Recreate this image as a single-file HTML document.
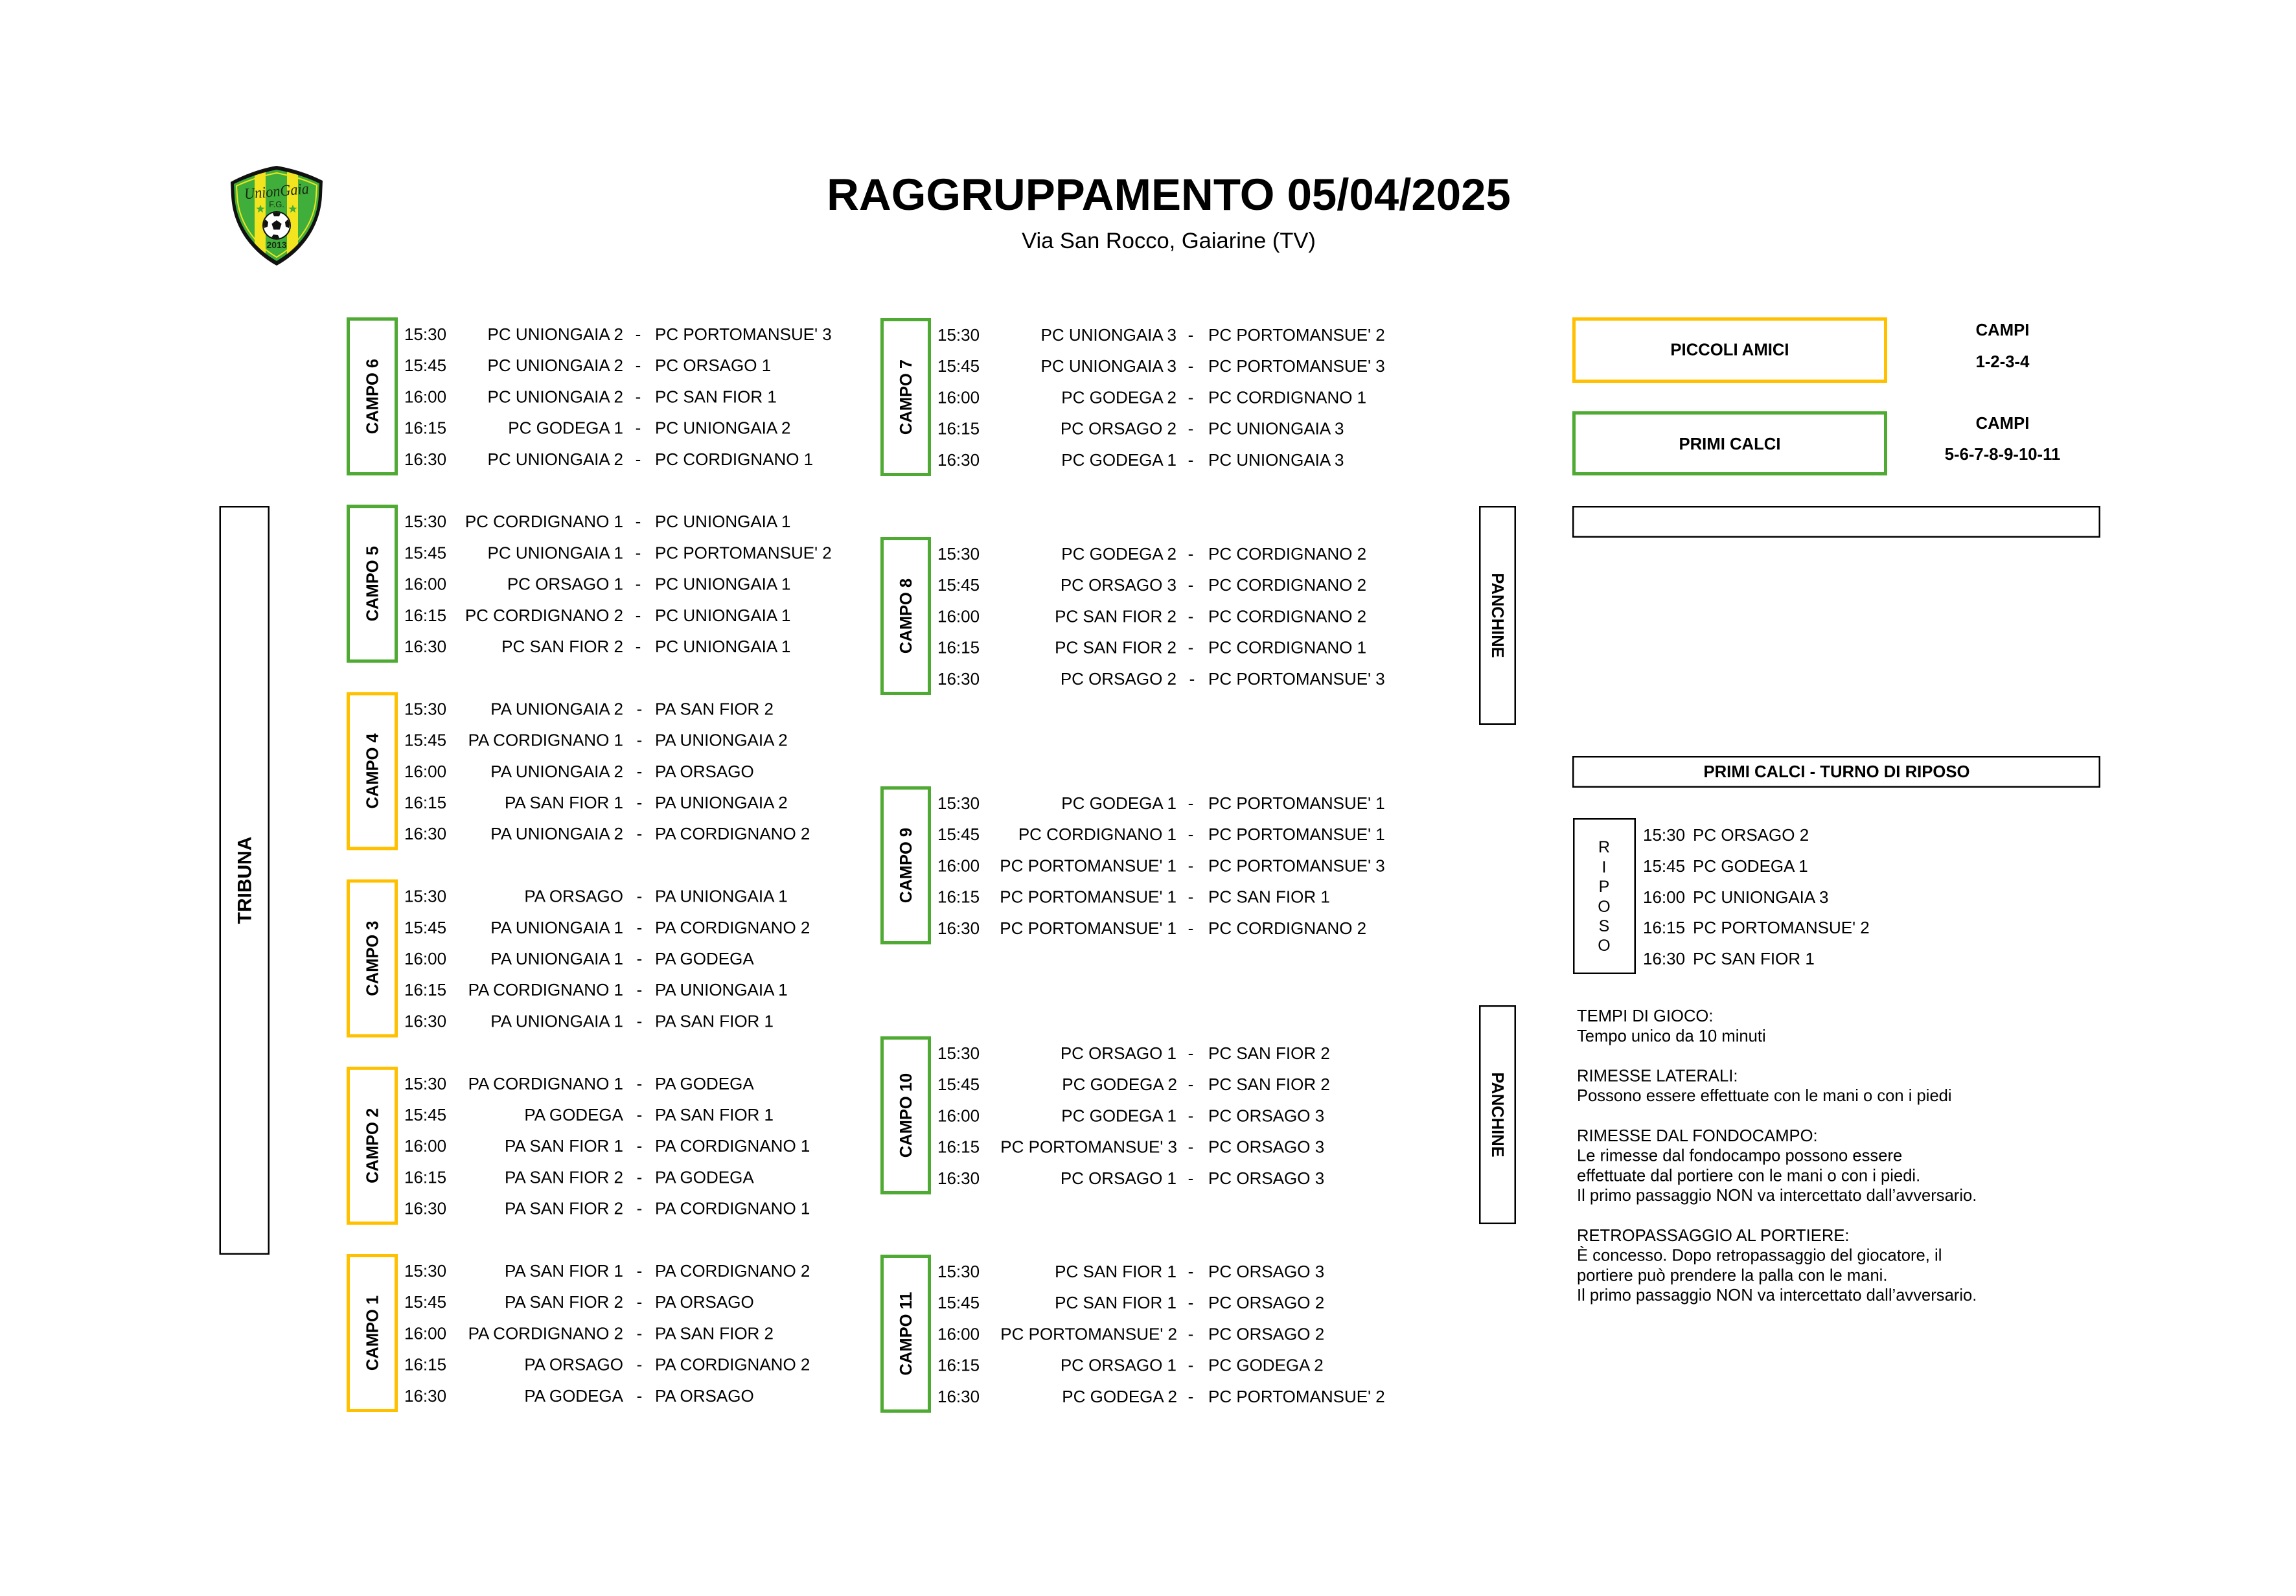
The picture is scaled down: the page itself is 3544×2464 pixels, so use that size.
<!DOCTYPE html>
<html>
<head>
<meta charset="utf-8">
<style>
html,body{margin:0;padding:0;background:#fff;}
body{width:3544px;height:2464px;overflow:hidden;}
svg{display:block;}
text{font-family:"Liberation Sans",Arial,sans-serif;fill:#000;}
.r{font-size:26px;}
.lab{font-size:25.5px;font-weight:bold;text-anchor:middle;}
.e{text-anchor:end;}
.m{text-anchor:middle;}
.bx{font-size:25.7px;font-weight:bold;text-anchor:middle;}
.rule{font-size:25.6px;}
</style>
</head>
<body>
<svg width="3544" height="2464" viewBox="0 0 3544 2464" xmlns="http://www.w3.org/2000/svg">
<defs>
<clipPath id="sh"><path d="M427,262 C406,266 384,273 361,284 L362,302 C364,344 388,380 427,403 C466,380 490,344 492,302 L493,283 C470,272 448,266 427,262 Z"/></clipPath>
<clipPath id="ball"><circle cx="427" cy="348" r="20"/></clipPath>
</defs>

<!-- LOGO -->
<g>
<path d="M427,256 C404,260 380,268 356,281 L357,302 C359,347 385,387 427,410 C469,387 495,347 497,302 L498,279 C474,267 450,260 427,256 Z" fill="#111"/>
<g clip-path="url(#sh)">
<rect x="350" y="250" width="160" height="170" fill="#3fae3a"/>
<rect x="393" y="250" width="17" height="170" fill="#f2e41e"/>
<rect x="443" y="250" width="17" height="170" fill="#f2e41e"/>
</g>
<path d="M427,267 C407,271 386,277 365,287 L366,302 C368,341 391,376 427,397 C463,376 486,341 488,302 L489,286 C468,276 447,271 427,267 Z" fill="none" stroke="#f2e41e" stroke-width="2"/>
<text x="377" y="303" textLength="100" lengthAdjust="spacingAndGlyphs" style="font-family:'Liberation Serif',serif;font-style:italic;font-size:24px;fill:#1b2a12;" transform="rotate(-5 427 297)">UnionGaia</text>
<text x="427" y="320" text-anchor="middle" style="font-size:13px;fill:#1b2a12;">F.G.</text>
<polygon points="402,316 403.8,320.5 408.5,320.7 404.8,323.6 406.1,328.2 402,325.5 397.9,328.2 399.2,323.6 395.5,320.7 400.2,320.5" fill="#3fae3a"/>
<polygon points="452,316 453.8,320.5 458.5,320.7 454.8,323.6 456.1,328.2 452,325.5 447.9,328.2 449.2,323.6 445.5,320.7 450.2,320.5" fill="#3fae3a"/>
<circle cx="427" cy="348" r="21" fill="#fff" stroke="#111" stroke-width="2"/>
<g clip-path="url(#ball)" fill="#111">
<polygon points="427,340 434.6,345.5 431.7,354.5 422.3,354.5 419.4,345.5"/>
<polygon points="427,326 433,329 431,334 423,334 421,329"/>
<polygon points="448,342 446,352 441,350 440,343 444,339"/>
<polygon points="406,342 408,352 413,350 414,343 410,339"/>
<polygon points="418,368 422,362 429,363 432,369 425,372"/>
<polygon points="440,366 444,360 448,362 446,369"/>
</g>
<text x="427" y="383" text-anchor="middle" style="font-size:14px;font-weight:bold;fill:#1b2a12;">2013</text>
</g>

<!-- TITLE -->
<text x="1804" y="324" text-anchor="middle" style="font-size:69px;font-weight:bold;">RAGGRUPPAMENTO 05/04/2025</text>
<text x="1804" y="383" text-anchor="middle" style="font-size:34.5px;">Via San Rocco, Gaiarine (TV)</text>

<!-- TRIBUNA -->
<rect x="339.75" y="782.25" width="75" height="1153.5" fill="none" stroke="#000" stroke-width="2.5"/>
<text transform="translate(377,1359) rotate(-90)" x="0" y="10.5" style="font-size:30px;font-weight:bold;" text-anchor="middle">TRIBUNA</text>

<!-- LEFT COLUMN -->
<!-- CAMPO 6 -->
<g transform="translate(0,490)">
<rect x="537.5" y="2.5" width="74" height="239" fill="none" stroke="#4eaa32" stroke-width="5"/>
<text class="lab" transform="translate(574.5,122) rotate(-90)" y="9">CAMPO 6</text>
<g class="r">
<text x="624" y="35">15:30</text><text class="e" x="962" y="35">PC UNIONGAIA 2</text><text class="m" x="985" y="35">-</text><text x="1011" y="35">PC PORTOMANSUE' 3</text>
<text x="624" y="83.2">15:45</text><text class="e" x="962" y="83.2">PC UNIONGAIA 2</text><text class="m" x="985" y="83.2">-</text><text x="1011" y="83.2">PC ORSAGO 1</text>
<text x="624" y="131.4">16:00</text><text class="e" x="962" y="131.4">PC UNIONGAIA 2</text><text class="m" x="985" y="131.4">-</text><text x="1011" y="131.4">PC SAN FIOR 1</text>
<text x="624" y="179.6">16:15</text><text class="e" x="962" y="179.6">PC GODEGA 1</text><text class="m" x="985" y="179.6">-</text><text x="1011" y="179.6">PC UNIONGAIA 2</text>
<text x="624" y="227.8">16:30</text><text class="e" x="962" y="227.8">PC UNIONGAIA 2</text><text class="m" x="985" y="227.8">-</text><text x="1011" y="227.8">PC CORDIGNANO 1</text>
</g>
</g>
<!-- CAMPO 5 -->
<g transform="translate(0,779.2)">
<rect x="537.5" y="2.5" width="74" height="239" fill="none" stroke="#4eaa32" stroke-width="5"/>
<text class="lab" transform="translate(574.5,122) rotate(-90)" y="9">CAMPO 5</text>
<g class="r">
<text x="624" y="35">15:30</text><text class="e" x="962" y="35">PC CORDIGNANO 1</text><text class="m" x="985" y="35">-</text><text x="1011" y="35">PC UNIONGAIA 1</text>
<text x="624" y="83.2">15:45</text><text class="e" x="962" y="83.2">PC UNIONGAIA 1</text><text class="m" x="985" y="83.2">-</text><text x="1011" y="83.2">PC PORTOMANSUE' 2</text>
<text x="624" y="131.4">16:00</text><text class="e" x="962" y="131.4">PC ORSAGO 1</text><text class="m" x="985" y="131.4">-</text><text x="1011" y="131.4">PC UNIONGAIA 1</text>
<text x="624" y="179.6">16:15</text><text class="e" x="962" y="179.6">PC CORDIGNANO 2</text><text class="m" x="985" y="179.6">-</text><text x="1011" y="179.6">PC UNIONGAIA 1</text>
<text x="624" y="227.8">16:30</text><text class="e" x="962" y="227.8">PC SAN FIOR 2</text><text class="m" x="985" y="227.8">-</text><text x="1011" y="227.8">PC UNIONGAIA 1</text>
</g>
</g>
<!-- CAMPO 4 -->
<g transform="translate(0,1068.4)">
<rect x="537.5" y="2.5" width="74" height="239" fill="none" stroke="#ffc000" stroke-width="5"/>
<text class="lab" transform="translate(574.5,122) rotate(-90)" y="9">CAMPO 4</text>
<g class="r">
<text x="624" y="35">15:30</text><text class="e" x="962" y="35">PA UNIONGAIA 2</text><text class="m" x="987" y="35">-</text><text x="1011" y="35">PA SAN FIOR 2</text>
<text x="624" y="83.2">15:45</text><text class="e" x="962" y="83.2">PA CORDIGNANO 1</text><text class="m" x="987" y="83.2">-</text><text x="1011" y="83.2">PA UNIONGAIA 2</text>
<text x="624" y="131.4">16:00</text><text class="e" x="962" y="131.4">PA UNIONGAIA 2</text><text class="m" x="987" y="131.4">-</text><text x="1011" y="131.4">PA ORSAGO</text>
<text x="624" y="179.6">16:15</text><text class="e" x="962" y="179.6">PA SAN FIOR 1</text><text class="m" x="987" y="179.6">-</text><text x="1011" y="179.6">PA UNIONGAIA 2</text>
<text x="624" y="227.8">16:30</text><text class="e" x="962" y="227.8">PA UNIONGAIA 2</text><text class="m" x="987" y="227.8">-</text><text x="1011" y="227.8">PA CORDIGNANO 2</text>
</g>
</g>
<!-- CAMPO 3 -->
<g transform="translate(0,1357.6)">
<rect x="537.5" y="2.5" width="74" height="239" fill="none" stroke="#ffc000" stroke-width="5"/>
<text class="lab" transform="translate(574.5,122) rotate(-90)" y="9">CAMPO 3</text>
<g class="r">
<text x="624" y="35">15:30</text><text class="e" x="962" y="35">PA ORSAGO</text><text class="m" x="987" y="35">-</text><text x="1011" y="35">PA UNIONGAIA 1</text>
<text x="624" y="83.2">15:45</text><text class="e" x="962" y="83.2">PA UNIONGAIA 1</text><text class="m" x="987" y="83.2">-</text><text x="1011" y="83.2">PA CORDIGNANO 2</text>
<text x="624" y="131.4">16:00</text><text class="e" x="962" y="131.4">PA UNIONGAIA 1</text><text class="m" x="987" y="131.4">-</text><text x="1011" y="131.4">PA GODEGA</text>
<text x="624" y="179.6">16:15</text><text class="e" x="962" y="179.6">PA CORDIGNANO 1</text><text class="m" x="987" y="179.6">-</text><text x="1011" y="179.6">PA UNIONGAIA 1</text>
<text x="624" y="227.8">16:30</text><text class="e" x="962" y="227.8">PA UNIONGAIA 1</text><text class="m" x="987" y="227.8">-</text><text x="1011" y="227.8">PA SAN FIOR 1</text>
</g>
</g>
<!-- CAMPO 2 -->
<g transform="translate(0,1646.8)">
<rect x="537.5" y="2.5" width="74" height="239" fill="none" stroke="#ffc000" stroke-width="5"/>
<text class="lab" transform="translate(574.5,122) rotate(-90)" y="9">CAMPO 2</text>
<g class="r">
<text x="624" y="35">15:30</text><text class="e" x="962" y="35">PA CORDIGNANO 1</text><text class="m" x="987" y="35">-</text><text x="1011" y="35">PA GODEGA</text>
<text x="624" y="83.2">15:45</text><text class="e" x="962" y="83.2">PA GODEGA</text><text class="m" x="987" y="83.2">-</text><text x="1011" y="83.2">PA SAN FIOR 1</text>
<text x="624" y="131.4">16:00</text><text class="e" x="962" y="131.4">PA SAN FIOR 1</text><text class="m" x="987" y="131.4">-</text><text x="1011" y="131.4">PA CORDIGNANO 1</text>
<text x="624" y="179.6">16:15</text><text class="e" x="962" y="179.6">PA SAN FIOR 2</text><text class="m" x="987" y="179.6">-</text><text x="1011" y="179.6">PA GODEGA</text>
<text x="624" y="227.8">16:30</text><text class="e" x="962" y="227.8">PA SAN FIOR 2</text><text class="m" x="987" y="227.8">-</text><text x="1011" y="227.8">PA CORDIGNANO 1</text>
</g>
</g>
<!-- CAMPO 1 -->
<g transform="translate(0,1936)">
<rect x="537.5" y="2.5" width="74" height="239" fill="none" stroke="#ffc000" stroke-width="5"/>
<text class="lab" transform="translate(574.5,122) rotate(-90)" y="9">CAMPO 1</text>
<g class="r">
<text x="624" y="35">15:30</text><text class="e" x="962" y="35">PA SAN FIOR 1</text><text class="m" x="987" y="35">-</text><text x="1011" y="35">PA CORDIGNANO 2</text>
<text x="624" y="83.2">15:45</text><text class="e" x="962" y="83.2">PA SAN FIOR 2</text><text class="m" x="987" y="83.2">-</text><text x="1011" y="83.2">PA ORSAGO</text>
<text x="624" y="131.4">16:00</text><text class="e" x="962" y="131.4">PA CORDIGNANO 2</text><text class="m" x="987" y="131.4">-</text><text x="1011" y="131.4">PA SAN FIOR 2</text>
<text x="624" y="179.6">16:15</text><text class="e" x="962" y="179.6">PA ORSAGO</text><text class="m" x="987" y="179.6">-</text><text x="1011" y="179.6">PA CORDIGNANO 2</text>
<text x="624" y="227.8">16:30</text><text class="e" x="962" y="227.8">PA GODEGA</text><text class="m" x="987" y="227.8">-</text><text x="1011" y="227.8">PA ORSAGO</text>
</g>
</g>

<!-- MIDDLE COLUMN -->
<!-- CAMPO 7 -->
<g transform="translate(0,491)">
<rect x="1361.5" y="2.5" width="73" height="239" fill="none" stroke="#4eaa32" stroke-width="5"/>
<text class="lab" transform="translate(1398,122) rotate(-90)" y="9">CAMPO 7</text>
<g class="r">
<text x="1447" y="35">15:30</text><text class="e" x="1816" y="35">PC UNIONGAIA 3</text><text class="m" x="1838" y="35">-</text><text x="1865" y="35">PC PORTOMANSUE' 2</text>
<text x="1447" y="83.2">15:45</text><text class="e" x="1816" y="83.2">PC UNIONGAIA 3</text><text class="m" x="1838" y="83.2">-</text><text x="1865" y="83.2">PC PORTOMANSUE' 3</text>
<text x="1447" y="131.4">16:00</text><text class="e" x="1816" y="131.4">PC GODEGA 2</text><text class="m" x="1838" y="131.4">-</text><text x="1865" y="131.4">PC CORDIGNANO 1</text>
<text x="1447" y="179.6">16:15</text><text class="e" x="1816" y="179.6">PC ORSAGO 2</text><text class="m" x="1838" y="179.6">-</text><text x="1865" y="179.6">PC UNIONGAIA 3</text>
<text x="1447" y="227.8">16:30</text><text class="e" x="1816" y="227.8">PC GODEGA 1</text><text class="m" x="1838" y="227.8">-</text><text x="1865" y="227.8">PC UNIONGAIA 3</text>
</g>
</g>
<!-- CAMPO 8 -->
<g transform="translate(0,829)">
<rect x="1361.5" y="2.5" width="73" height="239" fill="none" stroke="#4eaa32" stroke-width="5"/>
<text class="lab" transform="translate(1398,122) rotate(-90)" y="9">CAMPO 8</text>
<g class="r">
<text x="1447" y="35">15:30</text><text class="e" x="1816" y="35">PC GODEGA 2</text><text class="m" x="1838" y="35">-</text><text x="1865" y="35">PC CORDIGNANO 2</text>
<text x="1447" y="83.2">15:45</text><text class="e" x="1816" y="83.2">PC ORSAGO 3</text><text class="m" x="1838" y="83.2">-</text><text x="1865" y="83.2">PC CORDIGNANO 2</text>
<text x="1447" y="131.4">16:00</text><text class="e" x="1816" y="131.4">PC SAN FIOR 2</text><text class="m" x="1838" y="131.4">-</text><text x="1865" y="131.4">PC CORDIGNANO 2</text>
<text x="1447" y="179.6">16:15</text><text class="e" x="1816" y="179.6">PC SAN FIOR 2</text><text class="m" x="1838" y="179.6">-</text><text x="1865" y="179.6">PC CORDIGNANO 1</text>
<text x="1447" y="227.8">16:30</text><text class="e" x="1816" y="227.8">PC ORSAGO 2</text><text class="m" x="1840" y="227.8">-</text><text x="1865" y="227.8">PC PORTOMANSUE' 3</text>
</g>
</g>
<!-- CAMPO 9 -->
<g transform="translate(0,1214)">
<rect x="1361.5" y="2.5" width="73" height="239" fill="none" stroke="#4eaa32" stroke-width="5"/>
<text class="lab" transform="translate(1398,122) rotate(-90)" y="9">CAMPO 9</text>
<g class="r">
<text x="1447" y="35">15:30</text><text class="e" x="1816" y="35">PC GODEGA 1</text><text class="m" x="1838" y="35">-</text><text x="1865" y="35">PC PORTOMANSUE' 1</text>
<text x="1447" y="83.2">15:45</text><text class="e" x="1816" y="83.2">PC CORDIGNANO 1</text><text class="m" x="1838" y="83.2">-</text><text x="1865" y="83.2">PC PORTOMANSUE' 1</text>
<text x="1447" y="131.4">16:00</text><text class="e" x="1816" y="131.4">PC PORTOMANSUE' 1</text><text class="m" x="1838" y="131.4">-</text><text x="1865" y="131.4">PC PORTOMANSUE' 3</text>
<text x="1447" y="179.6">16:15</text><text class="e" x="1816" y="179.6">PC PORTOMANSUE' 1</text><text class="m" x="1838" y="179.6">-</text><text x="1865" y="179.6">PC SAN FIOR 1</text>
<text x="1447" y="227.8">16:30</text><text class="e" x="1816" y="227.8">PC PORTOMANSUE' 1</text><text class="m" x="1838" y="227.8">-</text><text x="1865" y="227.8">PC CORDIGNANO 2</text>
</g>
</g>
<!-- CAMPO 10 -->
<g transform="translate(0,1600)">
<rect x="1361.5" y="2.5" width="73" height="239" fill="none" stroke="#4eaa32" stroke-width="5"/>
<text class="lab" transform="translate(1398,122) rotate(-90)" y="9">CAMPO 10</text>
<g class="r">
<text x="1447" y="35">15:30</text><text class="e" x="1816" y="35">PC ORSAGO 1</text><text class="m" x="1838" y="35">-</text><text x="1865" y="35">PC SAN FIOR 2</text>
<text x="1447" y="83.2">15:45</text><text class="e" x="1817" y="83.2">PC GODEGA 2</text><text class="m" x="1838" y="83.2">-</text><text x="1865" y="83.2">PC SAN FIOR 2</text>
<text x="1447" y="131.4">16:00</text><text class="e" x="1816" y="131.4">PC GODEGA 1</text><text class="m" x="1838" y="131.4">-</text><text x="1865" y="131.4">PC ORSAGO 3</text>
<text x="1447" y="179.6">16:15</text><text class="e" x="1817" y="179.6">PC PORTOMANSUE' 3</text><text class="m" x="1838" y="179.6">-</text><text x="1865" y="179.6">PC ORSAGO 3</text>
<text x="1447" y="227.8">16:30</text><text class="e" x="1816" y="227.8">PC ORSAGO 1</text><text class="m" x="1838" y="227.8">-</text><text x="1865" y="227.8">PC ORSAGO 3</text>
</g>
</g>
<!-- CAMPO 11 -->
<g transform="translate(0,1937)">
<rect x="1361.5" y="2.5" width="73" height="239" fill="none" stroke="#4eaa32" stroke-width="5"/>
<text class="lab" transform="translate(1398,122) rotate(-90)" y="9">CAMPO 11</text>
<g class="r">
<text x="1447" y="35">15:30</text><text class="e" x="1816" y="35">PC SAN FIOR 1</text><text class="m" x="1838" y="35">-</text><text x="1865" y="35">PC ORSAGO 3</text>
<text x="1447" y="83.2">15:45</text><text class="e" x="1816" y="83.2">PC SAN FIOR 1</text><text class="m" x="1838" y="83.2">-</text><text x="1865" y="83.2">PC ORSAGO 2</text>
<text x="1447" y="131.4">16:00</text><text class="e" x="1817" y="131.4">PC PORTOMANSUE' 2</text><text class="m" x="1838" y="131.4">-</text><text x="1865" y="131.4">PC ORSAGO 2</text>
<text x="1447" y="179.6">16:15</text><text class="e" x="1816" y="179.6">PC ORSAGO 1</text><text class="m" x="1838" y="179.6">-</text><text x="1865" y="179.6">PC GODEGA 2</text>
<text x="1447" y="227.8">16:30</text><text class="e" x="1817" y="227.8">PC GODEGA 2</text><text class="m" x="1838" y="227.8">-</text><text x="1865" y="227.8">PC PORTOMANSUE' 2</text>
</g>
</g>

<!-- PANCHINE -->
<rect x="2284.25" y="782.25" width="54.5" height="335.5" fill="none" stroke="#000" stroke-width="2.5"/>
<text class="lab" transform="translate(2312,950) rotate(90)" y="9">PANCHINE</text>
<rect x="2284.25" y="1553.25" width="54.5" height="335.5" fill="none" stroke="#000" stroke-width="2.5"/>
<text class="lab" transform="translate(2312,1721) rotate(90)" y="9">PANCHINE</text>

<!-- RIGHT PANEL -->
<rect x="2429.5" y="492.5" width="481" height="96" fill="none" stroke="#ffc000" stroke-width="5"/>
<text class="bx" x="2670" y="548.5">PICCOLI AMICI</text>
<rect x="2429.5" y="637.5" width="481" height="94" fill="none" stroke="#4eaa32" stroke-width="5"/>
<text class="bx" x="2670" y="694">PRIMI CALCI</text>

<text class="bx" x="3091" y="518">CAMPI</text>
<text class="bx" x="3091" y="567">1-2-3-4</text>
<text class="bx" x="3091" y="662">CAMPI</text>
<text class="bx" x="3091" y="710">5-6-7-8-9-10-11</text>

<rect x="2428.25" y="782.25" width="812.5" height="46.5" fill="none" stroke="#000" stroke-width="2.5"/>

<rect x="2428.25" y="1168.25" width="812.5" height="46.5" fill="none" stroke="#000" stroke-width="2.5"/>
<text class="bx" x="2835" y="1200">PRIMI CALCI - TURNO DI RIPOSO</text>

<!-- RIPOSO -->
<rect x="2429.25" y="1264.25" width="94.5" height="238.5" fill="none" stroke="#000" stroke-width="2.5"/>
<g style="font-size:25px;" text-anchor="middle">
<text x="2476" y="1316">R</text>
<text x="2476" y="1347">I</text>
<text x="2476" y="1377">P</text>
<text x="2476" y="1408">O</text>
<text x="2476" y="1438">S</text>
<text x="2476" y="1468">O</text>
</g>
<g class="r">
<text x="2536" y="1298">15:30</text><text x="2613" y="1298">PC ORSAGO 2</text>
<text x="2536" y="1346">15:45</text><text x="2613" y="1346">PC GODEGA 1</text>
<text x="2536" y="1394">16:00</text><text x="2613" y="1394">PC UNIONGAIA 3</text>
<text x="2536" y="1441">16:15</text><text x="2613" y="1441">PC PORTOMANSUE' 2</text>
<text x="2536" y="1489">16:30</text><text x="2613" y="1489">PC SAN FIOR 1</text>
</g>

<!-- RULES -->
<g class="rule">
<text x="2434" y="1577">TEMPI DI GIOCO:</text>
<text x="2434" y="1607.8">Tempo unico da 10 minuti</text>
<text x="2434" y="1669.4">RIMESSE LATERALI:</text>
<text x="2434" y="1700.2">Possono essere effettuate con le mani o con i piedi</text>
<text x="2434" y="1761.8">RIMESSE DAL FONDOCAMPO:</text>
<text x="2434" y="1792.6">Le rimesse dal fondocampo possono essere</text>
<text x="2434" y="1823.4">effettuate dal portiere con le mani o con i piedi.</text>
<text x="2434" y="1854.2">Il primo passaggio NON va intercettato dall’avversario.</text>
<text x="2434" y="1915.8">RETROPASSAGGIO AL PORTIERE:</text>
<text x="2434" y="1946.6">È concesso. Dopo retropassaggio del giocatore, il</text>
<text x="2434" y="1977.4">portiere può prendere la palla con le mani.</text>
<text x="2434" y="2008.2">Il primo passaggio NON va intercettato dall’avversario.</text>
</g>
</svg>
</body>
</html>
